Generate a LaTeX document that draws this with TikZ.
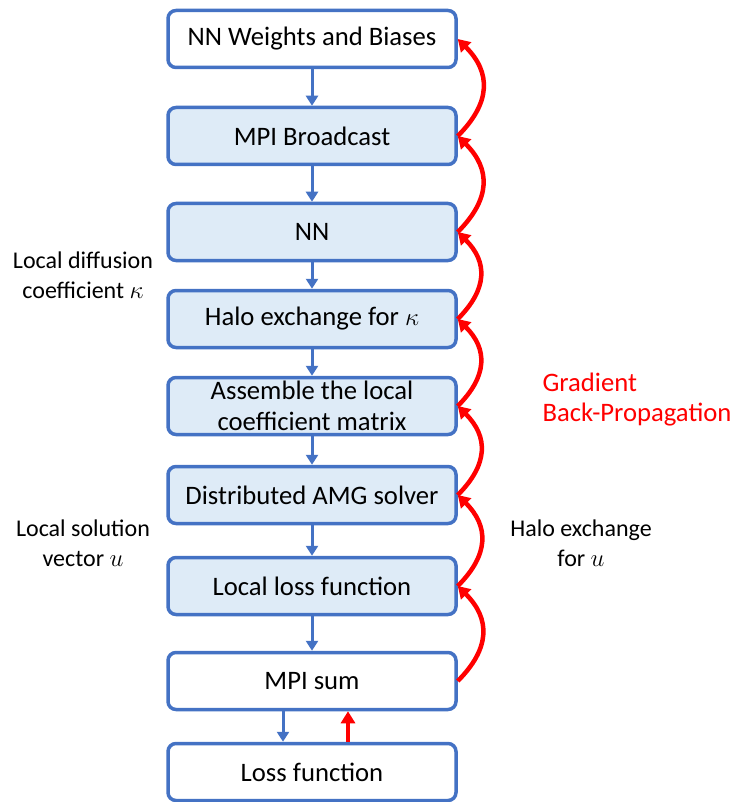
\documentclass[tikz,border=0pt]{standalone}
\usepackage{fontspec}
\setmainfont{Carlito}
\usetikzlibrary{arrows.meta}
\definecolor{boxblue}{HTML}{4472C4}
\definecolor{boxfill}{HTML}{DEEBF7}
\definecolor{gred}{HTML}{FF0000}
\begin{document}
\begin{tikzpicture}[x=1pt,y=-1pt,
  box/.style={draw=boxblue,line width=3.5pt,rounded corners=8pt,minimum width=288pt,minimum height=57pt,align=center,font=\fontsize{26.67}{31}\selectfont,inner sep=2pt},
  lbox/.style={box,fill=boxfill},
  wbox/.style={box,fill=white},
  fwd/.style={draw=boxblue,line width=3pt,-{Triangle[width=12pt,length=10pt]}},
  back/.style={draw=gred,line width=4.5pt,-{Triangle[width=14pt,length=12pt]}},
  side/.style={align=center,font=\fontsize{24}{30}\selectfont}]
\useasboundingbox (0,0) rectangle (733,802);
\node[wbox] (w) at (312,39) {NN Weights and Biases};
\node[lbox] (b) at (312,136) {MPI Broadcast};
\node[lbox] (nn) at (312,232) {NN};
\node[lbox] (h) at (312,319) {Halo exchange for $\kappa$};
\node[lbox] (a) at (312,406) {Assemble the local\\coefficient matrix};
\node[lbox] (s) at (312,495) {Distributed AMG solver};
\node[lbox] (ll) at (312,586) {Local loss function};
\node[wbox] (m) at (312,681) {MPI sum};
\node[wbox] (lf) at (312,772) {Loss function};
\foreach \p/\q in {w/b,b/nn,nn/h,h/a,a/s,s/ll,ll/m}
  \draw[fwd] (\p.south) -- (\q.north);
\coordinate (mb1) at ([xshift=-29pt]m.south);
\coordinate (lt1) at ([xshift=-29pt]lf.north);
\coordinate (mb2) at ([xshift=36pt]m.south);
\coordinate (lt2) at ([xshift=36pt]lf.north);
\draw[fwd] (mb1) -- (lt1);
\draw[back] (lt2) -- (mb2);
\foreach \p/\q in {m/ll,ll/s,s/a,a/h,h/nn,nn/b,b/w}
  \draw[back] (\p.east) to[out=45,in=-45,looseness=1.25] (\q.east);
\node[side] (kl) at (83,275) {Local diffusion\\coefficient $\kappa$};
\node[side] (ul) at (83,543) {Local solution\\vector $u$};
\node[side] (hu) at (581,543) {Halo exchange\\for $u$};
\node[align=left,anchor=west,text=gred,font=\fontsize{26.67}{30}\selectfont] (gb) at (539,400) {Gradient\\Back-Propagation};
\end{tikzpicture}
\end{document}
